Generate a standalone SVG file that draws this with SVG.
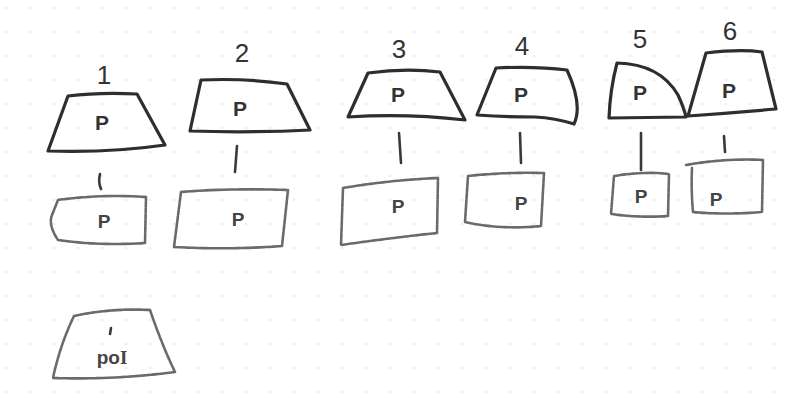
<svg xmlns="http://www.w3.org/2000/svg" width="792" height="394" viewBox="0 0 792 394">
<defs>
<pattern id="dots" width="24" height="24" patternUnits="userSpaceOnUse">
<circle cx="6" cy="8" r="0.8" fill="#d0d0d0"/>
<circle cx="6" cy="20" r="0.6" fill="#dcdcdc"/>
</pattern>
</defs>
<style>
.top{fill:none;stroke:#2e2e2e;stroke-width:3.2;stroke-linejoin:round;stroke-linecap:round}
.bot{fill:none;stroke:#6a6a6a;stroke-width:2.6;stroke-linejoin:round;stroke-linecap:round;stroke-dasharray:5 1.2}
.con{fill:none;stroke:#3a3a3a;stroke-width:2.6;stroke-linecap:round}
.num{font-family:"Liberation Sans",Arial,sans-serif;font-size:26px;fill:#333;text-anchor:middle}
.p{font-family:"Liberation Sans",Arial,sans-serif;font-size:21px;font-weight:bold;fill:#333;text-anchor:middle}
.pb{font-family:"Liberation Sans",Arial,sans-serif;font-size:19px;font-weight:bold;fill:#444;text-anchor:middle}
</style>
<rect width="792" height="394" fill="#fff"/>
<rect width="792" height="394" fill="url(#dots)"/>

<g id="connectors">
<path class="con" d="M100 174 Q98 182 101 189"/>
<path class="con" d="M237 146 L235 172"/>
<path class="con" d="M399 133 L401 163"/>
<path class="con" d="M520 133 L521 163"/>
<path class="con" d="M641 133 L641 170"/>
<path class="con" d="M724 136 L725 152"/>
</g>

<g id="n1">
<text class="num" x="104" y="84">1</text>
<path class="top" d="M68 96 Q100 92 137 94 L165 145 Q110 153 48 151 Z"/>
<text class="p" x="102" y="130">P</text>
</g>
<g id="n1b">
<path class="bot" d="M58 200 Q100 194 146 197 L145 243 Q100 246 58 240 Q48 225 52 215 Z"/>
<text class="pb" x="104" y="228">P</text>
</g>

<g id="n2">
<text class="num" x="242" y="62">2</text>
<path class="top" d="M201 80 Q245 78 287 84 L310 130 Q250 133 190 131 Z"/>
<text class="p" x="240" y="116">P</text>
</g>
<g id="n2b">
<path class="bot" d="M181 192 Q230 188 288 190 L282 246 Q230 250 174 247 Z"/>
<text class="pb" x="238" y="226">P</text>
</g>

<g id="n3">
<text class="num" x="399" y="58">3</text>
<path class="top" d="M368 73 Q405 68 440 72 L465 120 Q405 113 348 117 Z"/>
<text class="p" x="398" y="102">P</text>
</g>
<g id="n3b">
<path class="bot" d="M343 188 Q390 180 438 178 L437 233 Q390 238 341 245 Z"/>
<text class="pb" x="398" y="213">P</text>
</g>

<g id="n4">
<text class="num" x="522" y="55">4</text>
<path class="top" d="M496 68 Q535 66 567 70 Q583 105 574 124 Q555 118 535 117 Q505 117 477 115 Z"/>
<text class="p" x="521" y="102">P</text>
</g>
<g id="n4b">
<path class="bot" d="M468 176 Q505 172 544 173 L541 226 Q500 230 465 222 Z"/>
<text class="pb" x="521" y="210">P</text>
</g>

<g id="n5">
<text class="num" x="640" y="48">5</text>
<path class="top" d="M617 63 Q660 64 678 95 Q684 108 686 117 L609 118 Q610 90 617 63 Z"/>
<text class="p" x="640" y="100">P</text>
</g>
<g id="n5b">
<path class="bot" d="M614 176 Q645 171 669 174 L668 216 Q640 218 611 214 Z"/>
<text class="pb" x="641" y="203">P</text>
</g>

<g id="n6">
<text class="num" x="730" y="40">6</text>
<path class="top" d="M706 53 Q740 49 762 52 L776 109 Q730 113 688 116 Z"/>
<text class="p" x="729" y="98">P</text>
</g>
<g id="n6b">
<path class="bot" d="M686 165 Q725 158 763 160 L762 212 Q725 215 693 212 Q691 190 692 168"/>
<text class="pb" x="716" y="206">P</text>
</g>

<g id="n7">
<path class="bot" d="M74 316 Q110 308 150 310 Q162 345 175 372 Q115 380 53 378 Q60 345 74 316 Z"/>
<path class="con" d="M111 328 L110 334"/>
<text class="pb" x="112" y="364" font-size="22">po<tspan font-family="Liberation Serif, serif">I</tspan></text>
</g>
</svg>
